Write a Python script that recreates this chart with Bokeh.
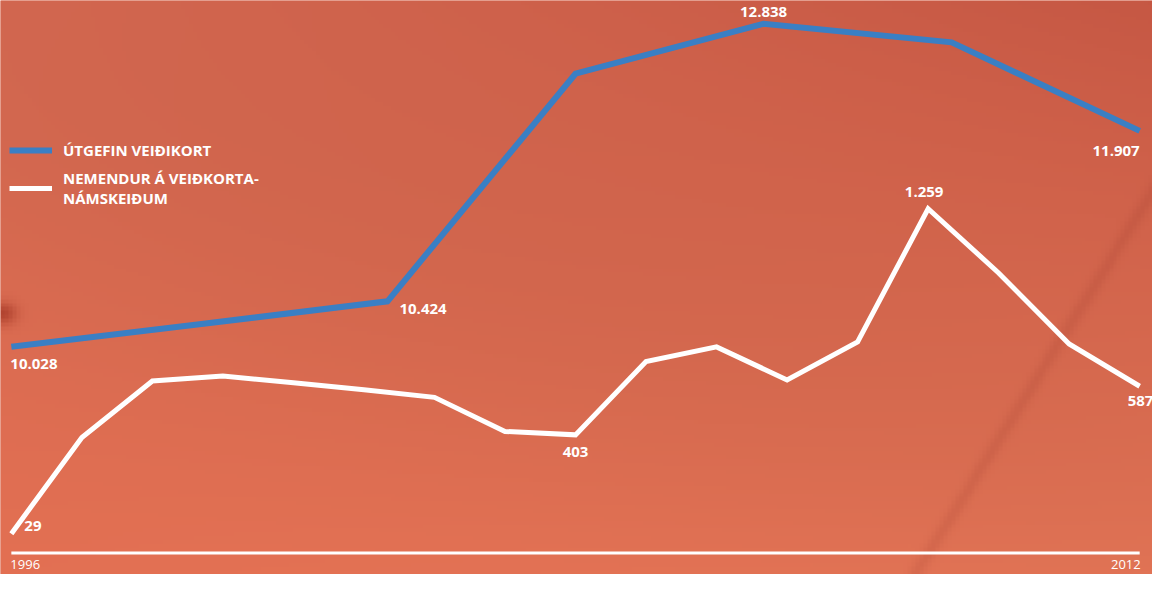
import numpy as np
from bokeh.plotting import figure
from bokeh.models import Range1d, Legend, LegendItem, ColumnDataSource
from bokeh.core.properties import value
from bokeh.embed import file_html
from bokeh.resources import INLINE

# ---------------- data ----------------
years = list(range(1996, 2013))
nemendur = [29, 393, 607, 626, 600, 574, 545, 416, 403, 681, 736, 611, 755, 1259, 1016, 747, 587]
nemendur_labels = ["29", "", "", "", "", "", "", "", "403", "", "", "", "", "1.259", "", "", "587"]

kort_index = [0, 1, 2, 3, 4, 5, 6]
kort = [10028, 10224, 10424, 12404, 12838, 12677, 11907]
kort_labels = ["10.028", "", "10.424", "", "12.838", "", "11.907"]

year_ticks = [1996, 2012]
year_tick_labels = ["1996", "2012"]

legend_labels = ["ÚTGEFIN VEIÐIKORT", "NEMENDUR Á VEIÐKORTA-\nNÁMSKEIÐUM"]

BLUE = "#3a7fc4"
WHITE = "#ffffff"
FONT = "Open Sans"

W, H = 1152, 574
# ranges (reference image is 1168x590; 1996 at px 11, 2012 at px 1155)
x0, x1 = 1996 - 11 / 71.5, 2012 + 13 / 71.5
y0, y1 = -125.6, 2047.4
bx0, bx1 = -11 / 190.67, 6 + 13 / 190.67
by0, by1 = 8047.0, 13041.0

p = figure(width=W, height=H, x_range=Range1d(x0, x1), y_range=Range1d(y0, y1),
           output_backend="svg", toolbar_location=None, min_border=0,
           x_axis_location=None, y_axis_location=None,
           outline_line_color=None, background_fill_color="#d9684f",
           border_fill_color="#d9684f")
p.grid.visible = False
p.extra_x_ranges = {"bx": Range1d(bx0, bx1)}
p.extra_y_ranges = {"by": Range1d(by0, by1)}

# ---------------- background gradient ----------------
GH, GW = 148, 292
u = np.linspace(0, 1, GW)[None, :]
v = np.linspace(0, 1, GH)[:, None]  # 0 = top
tl = np.array([216, 106, 82.0]); tr = np.array([198, 88, 68.0])
bl = np.array([227, 112, 83.0]); br = np.array([232, 119, 88.0])
col = ((1 - u)[..., None] * (1 - v)[..., None] * tl + u[..., None] * (1 - v)[..., None] * tr
       + (1 - u)[..., None] * v[..., None] * bl + u[..., None] * v[..., None] * br)
px = u * 1168; py = v * 590
band = np.exp(-((py - 0.35 * px - 120) / 260.0) ** 2) * 0.035
col = col * (1 - band[..., None])
# faint reddish diagonal streak at right
d = np.abs((px - 1168) + 0.61 * (py - 200)) / np.sqrt(1 + 0.61 ** 2)
streak = np.exp(-(d / 7.0) ** 2) * 0.08 * (py > 150)
col = col * (1 - streak[..., None] * np.array([0.6, 1.0, 1.0]))
# reddish-brown blob at left edge
blob = np.exp(-(((px - 0) ** 2) + ((py - 322) ** 2) * 1.5) / (14.0 ** 2)) * 0.4
col = col * (1 - blob[..., None] * np.array([0.45, 0.9, 1.0]))
col = np.clip(col, 0, 255).astype(np.uint8)
img = np.zeros((GH, GW), dtype=np.uint32)
view = img.view(dtype=np.uint8).reshape((GH, GW, 4))
view[..., 0] = col[..., 0]; view[..., 1] = col[..., 1]; view[..., 2] = col[..., 2]; view[..., 3] = 255
img = img[::-1]
p.image_rgba(image=[img], x=x0, y=y0, dw=x1 - x0, dh=y1 - y0, level="image")

# ---------------- baseline axis ----------------
axis_y = y0 + (590 - 568) / 590 * (y1 - y0)
p.segment(x0=[year_ticks[0]], y0=[axis_y], x1=[year_ticks[-1]], y1=[axis_y],
          line_color=WHITE, line_width=3)
p.text(x=[year_ticks[0]], y=[axis_y], text=[year_tick_labels[0]], text_align="left",
       text_baseline="middle", y_offset=11, x_offset=-1, text_color=WHITE,
       text_font=value(FONT), text_font_size="13px")
p.text(x=[year_ticks[-1]], y=[axis_y], text=[year_tick_labels[-1]], text_align="right",
       text_baseline="middle", y_offset=11, x_offset=1, text_color=WHITE,
       text_font=value(FONT), text_font_size="13px")

# ---------------- lines ----------------
src_n = ColumnDataSource(dict(x=years, y=nemendur))
src_k = ColumnDataSource(dict(x=kort_index, y=kort))
r_k = p.line("x", "y", source=src_k, x_range_name="bx", y_range_name="by",
             line_color=BLUE, line_width=6, line_join="miter")
r_n = p.line("x", "y", source=src_n, line_color=WHITE, line_width=5, line_join="miter")

# ---------------- value labels ----------------
lab_style = dict(text_color=WHITE, text_font=value(FONT), text_font_size="15px",
                 text_font_style="bold", text_baseline="middle")
# blue
p.text(x=[kort_index[0]], y=[kort[0]], text=[kort_labels[0]], x_range_name="bx", y_range_name="by",
       text_align="left", x_offset=-1, y_offset=17, **lab_style)
p.text(x=[kort_index[2]], y=[kort[2]], text=[kort_labels[2]], x_range_name="bx", y_range_name="by",
       text_align="left", x_offset=12, y_offset=8, **lab_style)
p.text(x=[kort_index[4]], y=[kort[4]], text=[kort_labels[4]], x_range_name="bx", y_range_name="by",
       text_align="center", x_offset=0, y_offset=-12, **lab_style)
p.text(x=[kort_index[6]], y=[kort[6]], text=[kort_labels[6]], x_range_name="bx", y_range_name="by",
       text_align="right", x_offset=0, y_offset=20, **lab_style)
# white
p.text(x=[years[0]], y=[nemendur[0]], text=[nemendur_labels[0]], text_align="left",
       x_offset=13, y_offset=-8, **lab_style)
p.text(x=[years[8]], y=[nemendur[8]], text=[nemendur_labels[8]], text_align="center",
       x_offset=0, y_offset=17, **lab_style)
p.text(x=[years[13]], y=[nemendur[13]], text=[nemendur_labels[13]], text_align="center",
       x_offset=-4, y_offset=-17, **lab_style)
p.text(x=[years[16]], y=[nemendur[16]], text=[nemendur_labels[16]], text_align="left",
       x_offset=-12, y_offset=15, **lab_style)

# ---------------- legend ----------------
legend = Legend(items=[LegendItem(label=legend_labels[0], renderers=[r_k]),
                       LegendItem(label=legend_labels[1], renderers=[r_n])],
                location=(9, 366), orientation="vertical",
                background_fill_alpha=0, border_line_color=None,
                label_text_color=WHITE, label_text_font=FONT, label_text_font_size="15px",
                label_text_font_style="bold", glyph_width=43, glyph_height=18,
                label_standoff=11, spacing=8, padding=0, margin=0,
                label_text_line_height=1.3)
p.add_layout(legend)

open("out.html", "w").write(file_html(p, INLINE))
